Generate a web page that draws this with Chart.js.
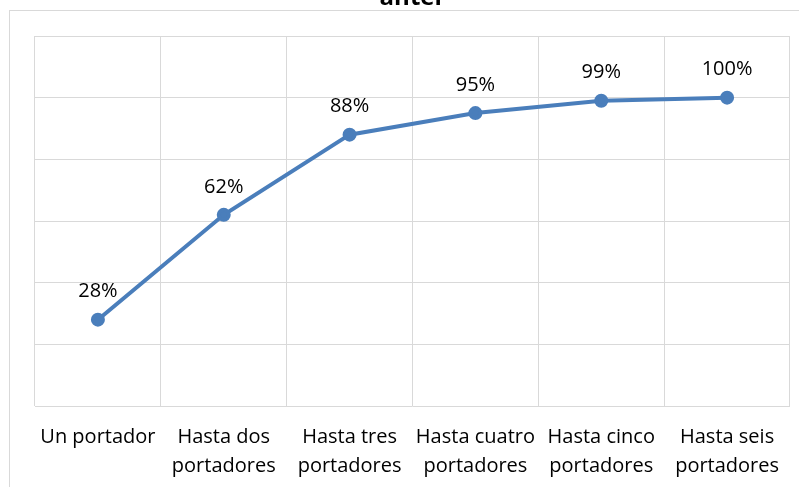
<!DOCTYPE html>
<html>
<head>
<meta charset="utf-8">
<script src="https://cdn.jsdelivr.net/npm/chart.js@4"></script>
<style>
  html, body { margin: 0; padding: 0; background: #fff; overflow: hidden; }
  #page { position: relative; width: 799px; height: 487px; overflow: hidden; }
  #frame { position: absolute; left: 9px; top: 10px; width: 840px; height: 540px; border: 1px solid #d9d9d9; }
  #wrap { position: absolute; left: 0; top: -20px; width: 799px; height: 524px; }
</style>
</head>
<body>
<div id="page">
  <div id="frame"></div>
  <div id="wrap"><canvas id="chart"></canvas></div>
</div>
<script>
const categories = [
  "Un portador",
  ["Hasta dos", "portadores"],
  ["Hasta tres", "portadores"],
  ["Hasta cuatro", "portadores"],
  ["Hasta cinco", "portadores"],
  ["Hasta seis", "portadores"]
];
const values = [28, 62, 88, 95, 99, 100];
const yMin = 0, yMax = 120, yStep = 20;

const font = "'Open Sans', 'Liberation Sans', sans-serif";
const lineBlue = "#4a7ebb";

// value labels above each point
const pointLabels = {
  id: "pointLabels",
  afterDatasetsDraw(chart) {
    const ctx = chart.ctx;
    const meta = chart.getDatasetMeta(0);
    ctx.save();
    ctx.font = "20px " + font;
    ctx.fillStyle = "#000";
    ctx.textAlign = "center";
    ctx.textBaseline = "middle";
    meta.data.forEach((pt, i) => {
      ctx.fillText(values[i] + "%", pt.x, pt.y - 28);
    });
    ctx.restore();
  }
};

new Chart(document.getElementById("chart").getContext("2d"), {
  type: "line",
  data: {
    labels: categories,
    datasets: [{
      data: values,
      borderColor: lineBlue,
      backgroundColor: lineBlue,
      borderWidth: 4,
      pointRadius: 5,
      pointHoverRadius: 5,
      tension: 0,
      fill: false
    }]
  },
  options: {
    responsive: true,
    maintainAspectRatio: false,
    animation: false,
    layout: { padding: { left: 35, right: 9, top: 0, bottom: 6 } },
    plugins: {
      legend: { display: false },
      tooltip: { enabled: false },
      title: {
        display: true,
        text: "anter",
        color: "#000",
        font: { family: font, size: 24, weight: "bold", lineHeight: 1 },
        padding: { top: 6, bottom: 26 }
      }
    },
    scales: {
      x: {
        offset: true,
        grid: { offset: true, color: "#d9d9d9", lineWidth: 1, drawTicks: false },
        border: { display: false },
        ticks: {
          color: "#000",
          font: { family: font, size: 20, lineHeight: 1.45 },
          padding: 17,
          maxRotation: 0,
          autoSkip: false
        }
      },
      y: {
        min: yMin,
        max: yMax,
        ticks: { display: false, stepSize: yStep },
        grid: { color: "#d9d9d9", lineWidth: 1, drawTicks: false },
        border: { display: false }
      }
    }
  },
  plugins: [pointLabels]
});
</script>
</body>
</html>
